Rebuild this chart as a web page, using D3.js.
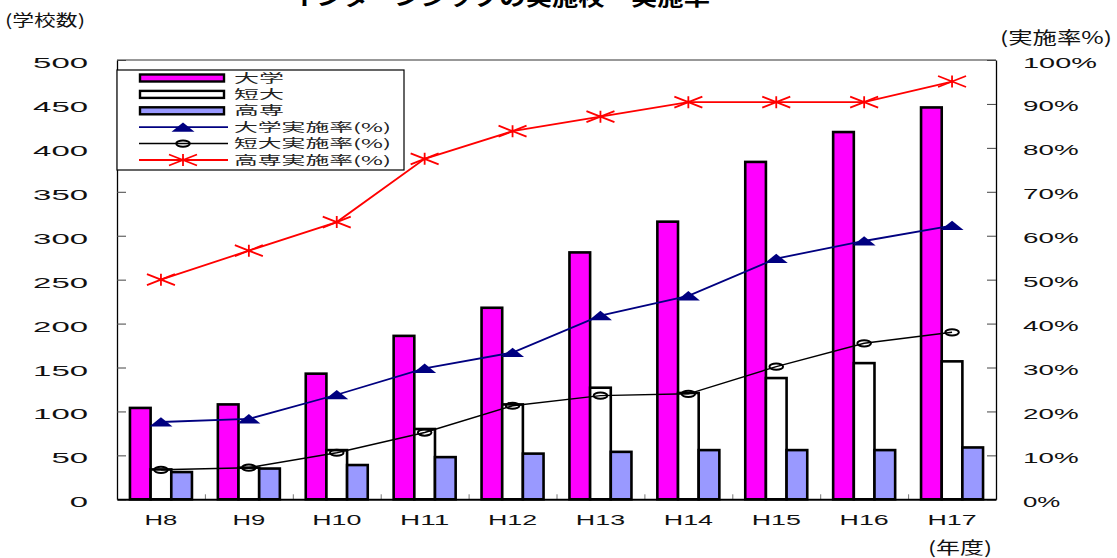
<!DOCTYPE html>
<html><head><meta charset="utf-8">
<script src="https://cdn.jsdelivr.net/npm/d3@7"></script>
<style>
html,body{margin:0;padding:0;background:#fff;}
svg{display:block;}
</style></head><body>
<svg id="chart" width="1117" height="558"></svg>
<script>
// ---- data ----
const categories = ["H8","H9","H10","H11","H12","H13","H14","H15","H16","H17"];
const univCount = [104,108,143,186,218,281,316,384,418,446];
const juniorCount = [34,36,56,80,108,127,121,138,155,157];
const technicalCount = [31,35,39,48,52,54,56,56,56,59];
const univRate = [17.6,18.3,23.8,29.8,33.4,41.8,46.3,54.8,58.8,62.3];
const juniorRate = [6.7,7.2,10.6,15.2,21.3,23.6,24.0,30.2,35.5,38.0];
const technicalRate = [50.0,56.6,63.1,77.5,83.8,87.1,90.4,90.4,90.4,95.1];
const leftTicks = [0,50,100,150,200,250,300,350,400,450,500];
const rightTicks = [0,10,20,30,40,50,60,70,80,90,100];
const barNames = ["大学","短大","高専"];
const lineNames = ["大学実施率(%)","短大実施率(%)","高専実施率(%)"];
const titleText = "インターンシップの実施校・実施率";
const leftTitle = "(学校数)";
const rightTitle = "(実施率%)";
const xTitle = "(年度)";

// ---- setup ----
const svg = d3.select("#chart");
const M = {left:117, right:996, top:60, bottom:499.3};
const NUM_FONT = "'Liberation Sans', Arial, sans-serif";
const CJK_FONT = "'Noto Sans CJK JP', 'Noto Sans CJK SC', sans-serif";

const x0 = d3.scaleBand().domain(categories).range([M.left, M.right]).padding(0);
const bw = x0.bandwidth();
const groupW = 62;
const x1 = d3.scaleBand().domain(barNames).range([(bw-groupW)/2, (bw+groupW)/2]).padding(0);
const yL = d3.scaleLinear().domain([0,500]).range([M.bottom, M.top]);
const yR = d3.scaleLinear().domain([0,100]).range([M.bottom, M.top]);

function fit(sel, x, w){
  sel.attr("text-anchor","start").attr("x", x).attr("textLength", w).attr("lengthAdjust","spacingAndGlyphs");
}

// plot frame top
svg.append("line").attr("x1",M.left).attr("x2",M.right).attr("y1",yL(500)).attr("y2",yL(500))
  .attr("stroke","#333").attr("stroke-width",1.2);

// ---- bars ----
const barSeries = [univCount, juniorCount, technicalCount];
const barColors = ["#FF00FF","#FFFFFF","#9999FF"];
barSeries.forEach((vals, s) => {
  svg.append("g").selectAll("rect").data(vals).join("rect")
    .attr("x", (d,i) => x0(categories[i]) + x1(barNames[s]))
    .attr("y", d => yL(d))
    .attr("width", x1.bandwidth())
    .attr("height", d => yL(0) - yL(d))
    .attr("fill", barColors[s])
    .attr("stroke", "#000")
    .attr("stroke-width", 2.6);
});

// ---- axes ----
const gL = svg.append("g").attr("transform",`translate(${M.left},0)`)
  .call(d3.axisLeft(yL).tickValues(leftTicks).tickSize(-9).tickSizeOuter(0).tickPadding(29).tickFormat(d3.format("d")));
gL.attr("font-family", NUM_FONT).attr("font-size", 14);
gL.select(".domain").attr("stroke","#000").attr("stroke-width",1.3);
gL.selectAll(".tick line").attr("stroke","#444");
gL.selectAll(".tick text").each(function(d){
  const s = String(d); const w = s.length*18.3;
  const t = d3.select(this); fit(t, -29 - w, w); t.attr("dy", 7.5).attr("fill","#111");
});

const gR = svg.append("g").attr("transform",`translate(${M.right},0)`)
  .call(d3.axisRight(yR).tickValues(rightTicks).tickSize(-9).tickSizeOuter(0).tickPadding(27).tickFormat(d => d + "%"));
gR.attr("font-family", NUM_FONT).attr("font-size", 14);
gR.select(".domain").attr("stroke","#000").attr("stroke-width",1.3);
gR.selectAll(".tick line").attr("stroke","#444");
gR.selectAll(".tick text").each(function(d){
  const s = String(d); const w = (s.length)*18.3 + 19;
  const t = d3.select(this); fit(t, 27, w); t.attr("dy", 7).attr("fill","#111");
});

// category boundary ticks
const xb = d3.scaleLinear().domain([0, categories.length]).range([M.left, M.right]);
const gB = svg.append("g").attr("transform",`translate(0,${M.bottom})`)
  .call(d3.axisBottom(xb).tickValues(d3.range(1, categories.length)).tickSize(-5).tickFormat(""));
gB.select(".domain").remove();
gB.selectAll(".tick line").attr("stroke","#777");

// category labels + baseline
const gX = svg.append("g").attr("transform",`translate(0,${M.bottom})`)
  .call(d3.axisBottom(x0).tickSize(0).tickSizeOuter(0).tickPadding(26));
gX.attr("font-family", NUM_FONT).attr("font-size", 14);
gX.select(".domain").attr("stroke","#000").attr("stroke-width",2);
gX.selectAll(".tick text").each(function(d){
  const w = d.length*16.4;
  const t = d3.select(this); fit(t, -w/2, w); t.attr("y", 26).attr("dy", 0).attr("fill","#111");
});

// ---- lines ----
const cx = i => x0(categories[i]) + bw/2;
const lineGen = d3.line().x((d,i) => cx(i)).y(d => yR(d));
const rateSeries = [univRate, juniorRate, technicalRate];
const lineColors = ["#000080","#000000","#FF0000"];
const lineWidths = [1.8, 1.5, 1.8];

function drawMarker(g, type, x, y){
  if(type === 0){
    g.append("path").attr("d", `M${x},${y-4.8}L${x+11.5},${y+4.5}L${x-11.5},${y+4.5}Z`).attr("fill","#000080");
  } else if(type === 1){
    g.append("ellipse").attr("cx",x).attr("cy",y).attr("rx",6.8).attr("ry",3.1)
      .attr("fill","none").attr("stroke","#000").attr("stroke-width",2);
  } else {
    g.append("path").attr("d", `M${x-14},${y-5.5}L${x+14},${y+5.5}M${x-14},${y+5.5}L${x+14},${y-5.5}M${x},${y-6}L${x},${y+6}`)
      .attr("fill","none").attr("stroke","#FF0000").attr("stroke-width",1.8);
  }
}

rateSeries.forEach((vals, s) => {
  const g = svg.append("g");
  g.append("path").datum(vals).attr("d", lineGen).attr("fill","none")
    .attr("stroke", lineColors[s]).attr("stroke-width", lineWidths[s]);
  vals.forEach((v,i) => drawMarker(g, s, cx(i), yR(v)));
});

// ---- legend ----
const lg = svg.append("g");
lg.append("rect").attr("x",117).attr("y",70).attr("width",287).attr("height",100)
  .attr("fill","#fff").attr("stroke","#000").attr("stroke-width",1.2);
const rowY = i => 78 + i*16.4;
barNames.forEach((n,i) => {
  lg.append("rect").attr("x",140).attr("y",rowY(i)-3.5).attr("width",84).attr("height",7)
    .attr("fill", barColors[i]).attr("stroke","#000").attr("stroke-width",2.4);
  const t = lg.append("text").attr("y", rowY(i)+4.5).attr("font-family",CJK_FONT).attr("font-size",12).attr("fill","#222").text(n);
  fit(t, 234, 50);
});
lineNames.forEach((n,j) => {
  const i = j + 3; const y = rowY(i);
  lg.append("line").attr("x1",139).attr("x2",228).attr("y1",y).attr("y2",y)
    .attr("stroke", lineColors[j]).attr("stroke-width", lineWidths[j]);
  drawMarker(lg, j, 183, y);
  const t = lg.append("text").attr("y", y+4.5).attr("font-family",CJK_FONT).attr("font-size",12).attr("fill","#222").text(n);
  fit(t, 234, 157);
});

// ---- titles ----
const tt = svg.append("text").attr("y", 5).attr("font-family",CJK_FONT).attr("font-size",22)
  .attr("font-weight","bold").attr("fill","#000").text(titleText);
fit(tt, 290, 420);

const lt = svg.append("text").attr("y", 26).attr("font-family",CJK_FONT).attr("font-size",16).attr("fill","#111").text(leftTitle);
fit(lt, 5, 80);
const rt = svg.append("text").attr("y", 44).attr("font-family",CJK_FONT).attr("font-size",17).attr("fill","#111").text(rightTitle);
fit(rt, 1000, 112);
const xt = svg.append("text").attr("y", 554).attr("font-family",CJK_FONT).attr("font-size",17).attr("fill","#111").text(xTitle);
fit(xt, 928, 64);
</script>
</body></html>
